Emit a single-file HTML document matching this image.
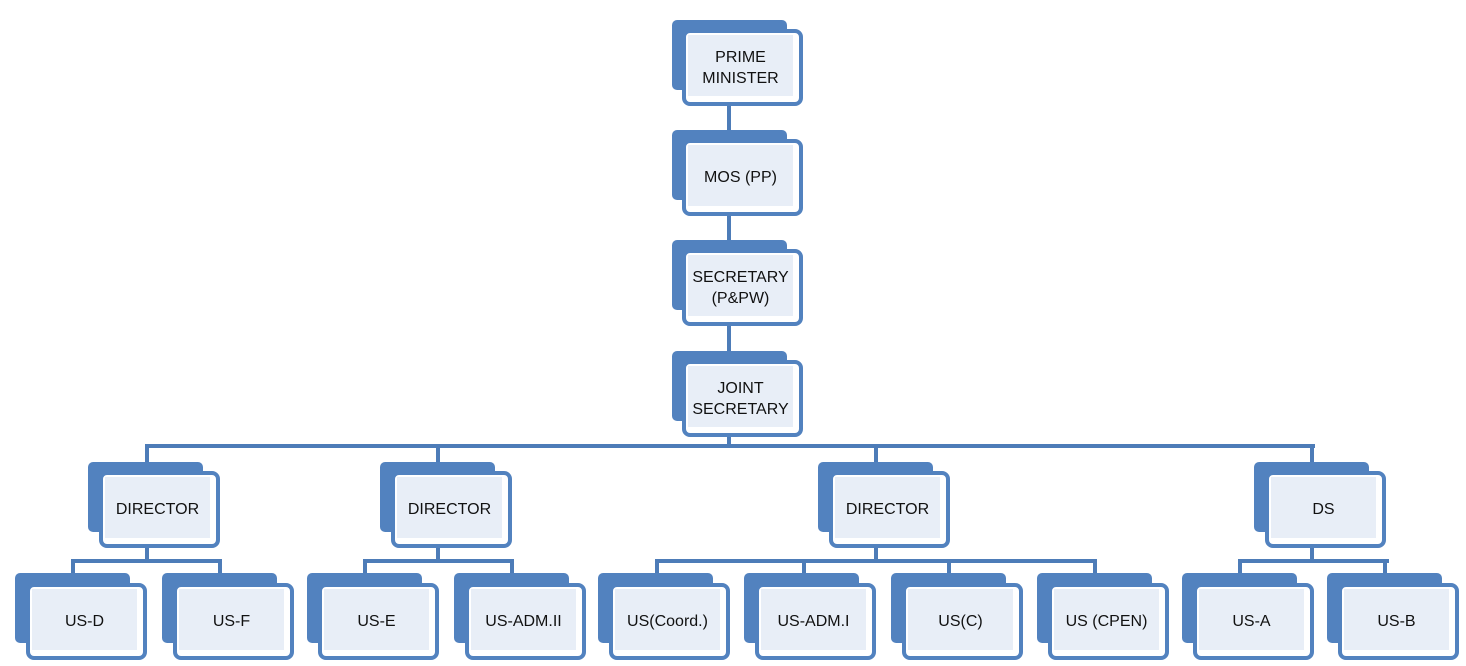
<!DOCTYPE html>
<html><head><meta charset="utf-8"><style>
body{margin:0;width:1466px;height:666px;background:#fff;position:relative;overflow:hidden;font-family:"Liberation Sans",sans-serif}
.b{position:absolute;width:115px;height:70px;background:#5282bf;border-radius:5px}
.f{position:absolute;width:121px;height:77px;box-sizing:border-box;border:4px solid #5282bf;border-radius:8px;background:#fff;display:flex;align-items:center;justify-content:center;text-align:center;font-size:16px;line-height:21px;color:#111}
.f::before{content:"";position:absolute;left:2px;top:2px;right:6px;bottom:6px;background:#e8eef7;z-index:0}
.f span{position:relative;z-index:1;margin-right:4px}
.l{position:absolute;background:#4d7cb8}
</style></head><body>
<div class="l" style="left:727px;top:100px;width:4px;height:32px"></div>
<div class="l" style="left:727px;top:210px;width:4px;height:32px"></div>
<div class="l" style="left:727px;top:320px;width:4px;height:32px"></div>
<div class="l" style="left:727px;top:432px;width:4px;height:16px"></div>
<div class="l" style="left:145px;top:444px;width:1170px;height:4px"></div>
<div class="l" style="left:145px;top:444px;width:4px;height:20px"></div>
<div class="l" style="left:436px;top:444px;width:4px;height:20px"></div>
<div class="l" style="left:874px;top:444px;width:4px;height:20px"></div>
<div class="l" style="left:1310px;top:444px;width:4px;height:20px"></div>

<div class="l" style="left:145px;top:544px;width:4px;height:18px"></div>
<div class="l" style="left:71px;top:559px;width:151px;height:4px"></div>
<div class="l" style="left:71px;top:559px;width:4px;height:16px"></div>
<div class="l" style="left:218px;top:559px;width:4px;height:16px"></div>

<div class="l" style="left:436px;top:544px;width:4px;height:18px"></div>
<div class="l" style="left:363px;top:559px;width:151px;height:4px"></div>
<div class="l" style="left:363px;top:559px;width:4px;height:16px"></div>
<div class="l" style="left:510px;top:559px;width:4px;height:16px"></div>

<div class="l" style="left:874px;top:544px;width:4px;height:18px"></div>
<div class="l" style="left:655px;top:559px;width:442px;height:4px"></div>
<div class="l" style="left:655px;top:559px;width:4px;height:16px"></div>
<div class="l" style="left:802px;top:559px;width:4px;height:16px"></div>
<div class="l" style="left:947px;top:559px;width:4px;height:16px"></div>
<div class="l" style="left:1093px;top:559px;width:4px;height:16px"></div>

<div class="l" style="left:1310px;top:544px;width:4px;height:18px"></div>
<div class="l" style="left:1238px;top:559px;width:151px;height:4px"></div>
<div class="l" style="left:1238px;top:559px;width:4px;height:16px"></div>
<div class="l" style="left:1383px;top:559px;width:4px;height:16px"></div>

<div class="b" style="left:672px;top:20px"></div><div class="f" style="left:682px;top:29px"><span>PRIME<br>MINISTER</span></div>
<div class="b" style="left:672px;top:130px"></div><div class="f" style="left:682px;top:139px"><span>MOS (PP)</span></div>
<div class="b" style="left:672px;top:240px"></div><div class="f" style="left:682px;top:249px"><span>SECRETARY<br>(P&amp;PW)</span></div>
<div class="b" style="left:672px;top:351px"></div><div class="f" style="left:682px;top:360px"><span>JOINT<br>SECRETARY</span></div>

<div class="b" style="left:88px;top:462px"></div><div class="f" style="left:99px;top:471px"><span>DIRECTOR</span></div>
<div class="b" style="left:380px;top:462px"></div><div class="f" style="left:391px;top:471px"><span>DIRECTOR</span></div>
<div class="b" style="left:818px;top:462px"></div><div class="f" style="left:829px;top:471px"><span>DIRECTOR</span></div>
<div class="b" style="left:1254px;top:462px"></div><div class="f" style="left:1265px;top:471px"><span>DS</span></div>

<div class="b" style="left:15px;top:573px"></div><div class="f" style="left:26px;top:583px"><span>US-D</span></div>
<div class="b" style="left:162px;top:573px"></div><div class="f" style="left:173px;top:583px"><span>US-F</span></div>
<div class="b" style="left:307px;top:573px"></div><div class="f" style="left:318px;top:583px"><span>US-E</span></div>
<div class="b" style="left:454px;top:573px"></div><div class="f" style="left:465px;top:583px"><span>US-ADM.II</span></div>
<div class="b" style="left:598px;top:573px"></div><div class="f" style="left:609px;top:583px"><span>US(Coord.)</span></div>
<div class="b" style="left:744px;top:573px"></div><div class="f" style="left:755px;top:583px"><span>US-ADM.I</span></div>
<div class="b" style="left:891px;top:573px"></div><div class="f" style="left:902px;top:583px"><span>US(C)</span></div>
<div class="b" style="left:1037px;top:573px"></div><div class="f" style="left:1048px;top:583px"><span>US (CPEN)</span></div>
<div class="b" style="left:1182px;top:573px"></div><div class="f" style="left:1193px;top:583px"><span>US-A</span></div>
<div class="b" style="left:1327px;top:573px"></div><div class="f" style="left:1338px;top:583px"><span>US-B</span></div>
</body></html>
